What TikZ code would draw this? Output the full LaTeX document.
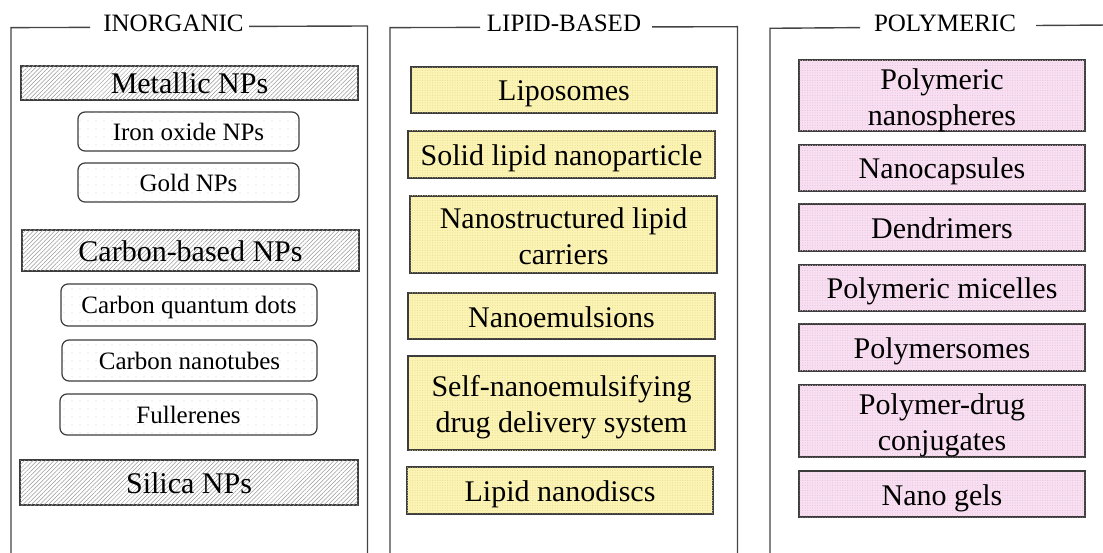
\documentclass[tikz,border=0pt]{standalone}
\usepackage{fontspec}
\setmainfont{Liberation Serif}
\usetikzlibrary{patterns.meta}
\definecolor{edge}{HTML}{3C3C3C}
\definecolor{frm}{HTML}{444444}
\definecolor{ylw}{HTML}{FCF4B4}
\definecolor{ylwdot}{HTML}{E8DA90}
\definecolor{pnk}{HTML}{F8DFF1}
\definecolor{pnkdot}{HTML}{E6BFD9}
\newcommand\twolines[2]{\begin{tabular}{@{}c@{}}#1\\#2\end{tabular}}
\tikzset{
  big/.style={font=\fontsize{30}{36}\selectfont, inner sep=0pt, text height=23pt, text depth=1pt},
  small/.style={font=\fontsize{25}{30}\selectfont, inner sep=0pt, text height=19pt, text depth=1pt},
  hatchbox/.style={big, draw=edge, line width=1.2pt, fill=white,
    postaction={pattern={Lines[angle=45,distance=3pt,line width=0.5pt]}, pattern color=gray!80}},
  dotbox/.style={small, draw=edge, line width=1.2pt, rounded corners=7pt, fill=white,
    postaction={pattern={Dots[distance=8pt,radius=0.5pt]}, pattern color=gray!50}},
  lipidbox/.style={big, draw=edge, line width=1.2pt, fill=ylw,
    postaction={pattern={Dots[distance=2.5pt,radius=0.5pt]}, pattern color=ylwdot}},
  polybox/.style={big, draw=edge, line width=1.2pt, fill=pnk,
    postaction={pattern={Dots[distance=2.5pt,radius=0.5pt]}, pattern color=pnkdot}},
  frameline/.style={draw=frm, line width=1.4pt},
  flabel/.style={font=\fontsize{25}{30}\selectfont, anchor=base, inner sep=0pt},
}
\begin{document}
\begin{tikzpicture}[x=1pt,y=-1pt]
\useasboundingbox (0,0) rectangle (1103,553);
% frames
\draw[frameline] (90,27.4) -- (11,27.6) -- (11,560);
\draw[frameline] (249,26.4) -- (367.5,26) -- (367.5,560);
\node[flabel] (tinorg) at (173.5,32) {INORGANIC};
\draw[frameline] (480,27.4) -- (390,27.6) -- (390,560);
\draw[frameline] (652,26.9) -- (737.5,26.7) -- (737.5,560);
\node[flabel] (tlipid) at (564,32) {LIPID-BASED};
\draw[frameline] (860,27.6) -- (770,28.3) -- (770,560);
\draw[frameline] (1036,25.5) -- (1110,25);
\node[flabel] (tpoly) at (945,32) {POLYMERIC};
% column 1
\node[hatchbox, minimum width=337pt, minimum height=34pt] (metal) at (189.5,83) {Metallic NPs};
\node[dotbox, minimum width=221pt, minimum height=39pt] (iron) at (188.5,131.5) {Iron oxide NPs};
\node[dotbox, minimum width=221pt, minimum height=39pt] (gold) at (188.5,182.5) {Gold NPs};
\node[hatchbox, minimum width=337pt, minimum height=41pt] (carbon) at (190.5,250.5) {Carbon-based NPs};
\node[dotbox, minimum width=256pt, minimum height=42pt] (cqd) at (189,305) {Carbon quantum dots};
\node[dotbox, minimum width=255pt, minimum height=41pt] (cnt) at (189.5,360.5) {Carbon nanotubes};
\node[dotbox, minimum width=257pt, minimum height=41pt] (full) at (188.5,414.5) {Fullerenes};
\node[hatchbox, minimum width=338pt, minimum height=45pt] (silica) at (189,482.5) {Silica NPs};
% column 2
\node[lipidbox, minimum width=306pt, minimum height=46pt] (lipo) at (564,90) {Liposomes};
\node[lipidbox, minimum width=307pt, minimum height=47pt] (sln) at (561.5,154.5) {Solid lipid nanoparticle};
\node[lipidbox, minimum width=307pt, minimum height=77pt] (nlc) at (563.5,234.5) {\twolines{Nanostructured lipid}{carriers}};
\node[lipidbox, minimum width=307pt, minimum height=46pt] (nano) at (561.5,316) {Nanoemulsions};
\node[lipidbox, minimum width=307pt, minimum height=94pt] (snedds) at (561.5,403) {\twolines{Self-nanoemulsifying}{drug delivery system}};
\node[lipidbox, minimum width=306pt, minimum height=47pt] (disc) at (560,490.5) {Lipid nanodiscs};
% column 3
\node[polybox, minimum width=286pt, minimum height=71pt] (pns) at (942,95.5) {\twolines{Polymeric}{nanospheres}};
\node[polybox, minimum width=286pt, minimum height=46pt] (caps) at (942,168) {Nanocapsules};
\node[polybox, minimum width=286pt, minimum height=47pt] (dend) at (942,227.5) {Dendrimers};
\node[polybox, minimum width=286pt, minimum height=46pt] (mic) at (942,288) {Polymeric micelles};
\node[polybox, minimum width=286pt, minimum height=47pt] (psome) at (942,347.5) {Polymersomes};
\node[polybox, minimum width=286pt, minimum height=72pt] (pdc) at (942,421) {\twolines{Polymer-drug}{conjugates}};
\node[polybox, minimum width=286pt, minimum height=46pt] (gels) at (942,494) {Nano gels};
\end{tikzpicture}
\end{document}
